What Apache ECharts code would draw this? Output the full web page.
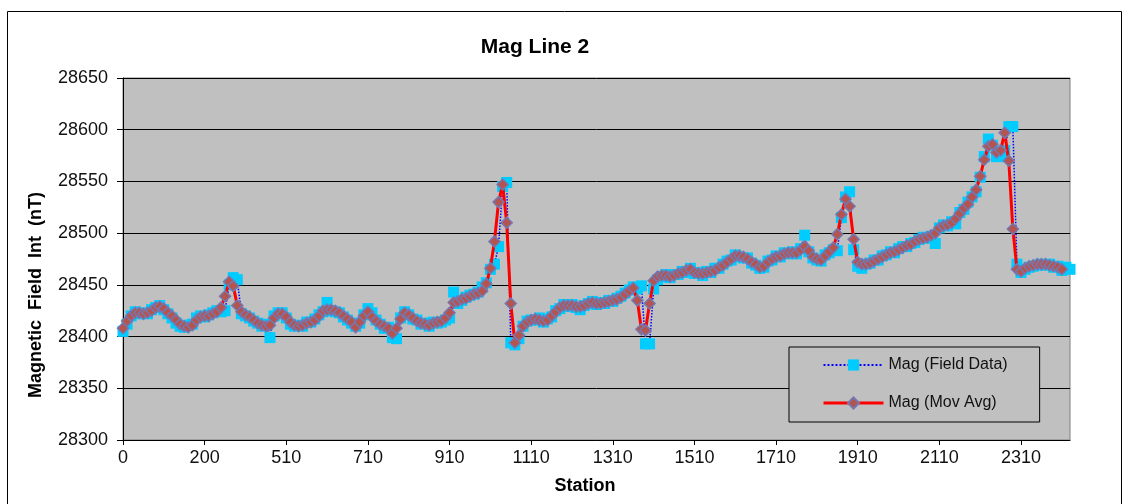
<!DOCTYPE html>
<html>
<head>
<meta charset="utf-8">
<script src="https://cdn.jsdelivr.net/npm/echarts@6/dist/echarts.min.js"></script>
<style>
html,body{margin:0;padding:0;background:#fff;}
#c{width:1133px;height:504px;}
</style>
</head>
<body>
<div id="c"></div>
<script>
const stations = [
0,10,20,30,40,50,60,70,80,90,100,110,120,130,140,150,160,170,180,190,200,
210,220,230,240,250,260,270,280,290,300,
420,430,440,450,460,470,480,490,500,
510,520,530,540,550,560,570,580,590,600,610,620,630,640,650,660,670,680,690,700,
710,720,730,740,750,760,770,780,790,800,810,820,830,840,850,860,870,880,890,900,
910,920,930,940,950,960,970,980,990,1000,1010,1020,1030,1040,1050,1060,1070,1080,1090,1100,
1110,1120,1130,1140,1150,1160,1170,1180,1190,1200,1210,1220,1230,1240,1250,1260,1270,1280,1290,1300,
1310,1320,1330,1340,1350,1360,1370,1380,1390,1400,1410,1420,1430,1440,1450,1460,1470,1480,1490,1500,
1510,1520,1530,1540,1550,1560,1570,1580,1590,1600,1610,1620,1630,1640,1650,1660,1670,1680,1690,1700,
1710,1720,1730,1740,1750,1760,1770,1780,1790,1800,1810,1820,1830,1840,1850,1860,1870,1880,1890,1900,
1910,1920,1930,1940,1950,1960,1970,1980,1990,2000,2010,2020,2030,2040,2050,2060,2070,2080,2090,2100,
2110,2120,2130,2140,2150,2160,2170,2180,2190,2200,2210,2220,2230,2240,2250,2260,2270,2280,2290,2300,
2310,2320,2330,2340,2350,2360,2370,2380,2390,2400,2410,2420,2430
];

const magField = [
28405,28412,28420,28424,28422,28423,28422,28426,28428,28430,
28426,28422,28418,28413,28410,28409,28411,28412,28418,28420,
28419,28421,28423,28425,28424,28425,28450,28457,28455,28422,
28420,28418,28415,28413,28410,28412,28399,28420,28423,28423,
28418,28412,28410,28411,28410,28414,28414,28417,28421,28424,
28433,28425,28424,28423,28419,28416,28413,28410,28413,28421,
28427,28423,28416,28412,28408,28409,28399,28398,28418,28424,
28421,28417,28416,28412,28413,28410,28414,28413,28414,28416,
28418,28443,28432,28435,28438,28440,28441,28443,28448,28452,
28465,28470,28487,28545,28549,28394,28392,28398,28410,28415,
28416,28416,28418,28414,28417,28419,28425,28427,28431,28429,
28431,28428,28426,28430,28432,28434,28431,28433,28432,28435,
28434,28437,28439,28442,28445,28448,28446,28449,28393,28393,
28446,28455,28458,28460,28457,28460,28460,28463,28462,28466,
28461,28462,28459,28463,28462,28466,28466,28470,28473,28474,
28479,28477,28476,28476,28471,28469,28466,28467,28473,28474,
28478,28477,28481,28480,28482,28480,28485,28498,28482,28476,
28474,28473,28479,28481,28484,28483,28515,28535,28540,28484,
28468,28466,28470,28471,28474,28474,28478,28479,28482,28481,
28485,28487,28487,28490,28491,28494,28496,28495,28497,28490,
28505,28508,28507,28511,28509,28520,28523,28530,28535,28540,
28554,28574,28591,28585,28574,28574,28580,28603,28603,28470,
28462,28465,28467,28468,28469,28470,28469,28470,28467,28468,
28464,28467,28465
];

const magMovAvg = [
28408,28415,28420,28423,28423,28422,28423,28425,28428,28429,
28427,28423,28420,28416,28412,28410,28409,28411,28416,28419,
28420,28420,28422,28424,28428,28439,28453,28449,28430,28424,
28421,28419,28416,28413,28411,28410,28411,28418,28422,28422,
28419,28414,28411,28410,28411,28413,28414,28416,28420,28425,
28426,28426,28425,28423,28420,28417,28414,28409,28414,28420,
28424,28419,28415,28412,28410,28408,28403,28408,28417,28423,
28421,28418,28415,28413,28412,28411,28413,28414,28415,28418,
28423,28433,28434,28436,28437,28439,28441,28442,28444,28451,
28466,28492,28530,28547,28510,28432,28394,28401,28410,28414,
28416,28417,28416,28415,28416,28420,28424,28428,28430,28430,
28430,28429,28429,28430,28432,28433,28432,28432,28433,28434,
28435,28436,28438,28441,28444,28447,28435,28407,28406,28432,
28454,28458,28459,28459,28458,28459,28461,28462,28464,28465,
28462,28461,28461,28462,28463,28464,28467,28469,28472,28475,
28478,28478,28477,28475,28472,28470,28467,28468,28472,28475,
28477,28478,28480,28481,28481,28481,28484,28487,28483,28477,
28475,28474,28478,28482,28486,28499,28518,28533,28526,28494,
28472,28470,28470,28471,28473,28475,28477,28479,28481,28482,
28484,28486,28488,28489,28492,28494,28495,28496,28498,28500,
28505,28507,28508,28510,28514,28519,28524,28528,28535,28542,
28555,28571,28584,28586,28578,28580,28597,28570,28504,28465,
28463,28466,28468,28469,28470,28470,28470,28469,28468,28467,
28465,null,null
];

const yTicks = { min: 28300, max: 28650, step: 50 };
const seriesNames = ['Mag (Field Data)', 'Mag (Mov Avg)'];
const FONT = '"Liberation Sans", Arial, sans-serif';

const chart = echarts.init(document.getElementById('c'), null, { renderer: 'canvas' });
chart.setOption({
  animation: false,
  backgroundColor: '#ffffff',
  textStyle: { fontFamily: FONT },
  grid: {
    left: 123, right: 63, top: 78, bottom: 64,
    show: true, backgroundColor: '#C0C0C0', borderColor: '#808080', borderWidth: 1
  },
  xAxis: {
    type: 'category',
    data: stations,
    boundaryGap: false,
    axisLine: { lineStyle: { color: '#000', width: 1 } },
    axisTick: { interval: 19, length: 5, lineStyle: { color: '#000' } },
    axisLabel: { interval: 19, fontSize: 18, color: '#111', margin: 9, fontFamily: FONT },
    splitLine: { show: false }
  },
  yAxis: {
    type: 'value',
    min: yTicks.min, max: yTicks.max, interval: yTicks.step,
    axisLine: { show: true, lineStyle: { color: '#000', width: 1 } },
    axisTick: { show: true, length: 6, lineStyle: { color: '#000' } },
    axisLabel: { fontSize: 18, color: '#111', margin: 15, fontFamily: FONT,
      formatter: function (v) { return String(v); } },
    splitLine: { show: true, lineStyle: { color: '#000', width: 1 } }
  },
  legend: {
    data: [
      { name: seriesNames[0], lineStyle: { color: '#0000FF', width: 2, type: 'dotted' } },
      { name: seriesNames[1], lineStyle: { color: '#FF0000', width: 3, type: 'solid' } }
    ],
    orient: 'vertical',
    left: 789, top: 347,
    itemWidth: 60, itemHeight: 14, itemGap: 22,
    padding: [10, 32, 11, 33],
    backgroundColor: '#C0C0C0',
    borderColor: '#000', borderWidth: 1, borderRadius: 0,
    textStyle: { fontSize: 16, color: '#111', fontFamily: FONT }
  },
  graphic: [
    { type: 'rect', silent: true, z: 100,
      shape: { x: 7.5, y: 11.5, width: 1114, height: 500 },
      style: { fill: 'none', stroke: '#000', lineWidth: 1 } },
    { type: 'text', x: 535, y: 47, z: 100,
      style: { text: 'Mag Line 2', font: 'bold 21px ' + FONT, fill: '#000', align: 'center', verticalAlign: 'middle' } },
    { type: 'text', x: 36, y: 295, rotation: Math.PI / 2, z: 100,
      style: { text: 'Magnetic  Field  Int  (nT)', font: 'bold 18px ' + FONT, fill: '#000', align: 'center', verticalAlign: 'middle' } },
    { type: 'text', x: 585, y: 486, z: 100,
      style: { text: 'Station', font: 'bold 18px ' + FONT, fill: '#000', align: 'center', verticalAlign: 'middle' } }
  ],
  series: [
    {
      name: seriesNames[0],
      type: 'line',
      data: magField,
      symbol: 'rect',
      symbolSize: 11,
      showSymbol: true,
      showAllSymbol: true,
      itemStyle: { color: '#00CCFF' },
      lineStyle: { color: '#0000FF', width: 1.5, type: 'dotted' },
      z: 2
    },
    {
      name: seriesNames[1],
      type: 'line',
      data: magMovAvg,
      symbol: 'diamond',
      symbolSize: 11,
      showSymbol: true,
      showAllSymbol: true,
      connectNulls: false,
      itemStyle: { color: '#B5534F', borderColor: '#7478B0', borderWidth: 1.5 },
      lineStyle: { color: '#FF0000', width: 3 },
      z: 3
    }
  ]
});
</script>
</body>
</html>
